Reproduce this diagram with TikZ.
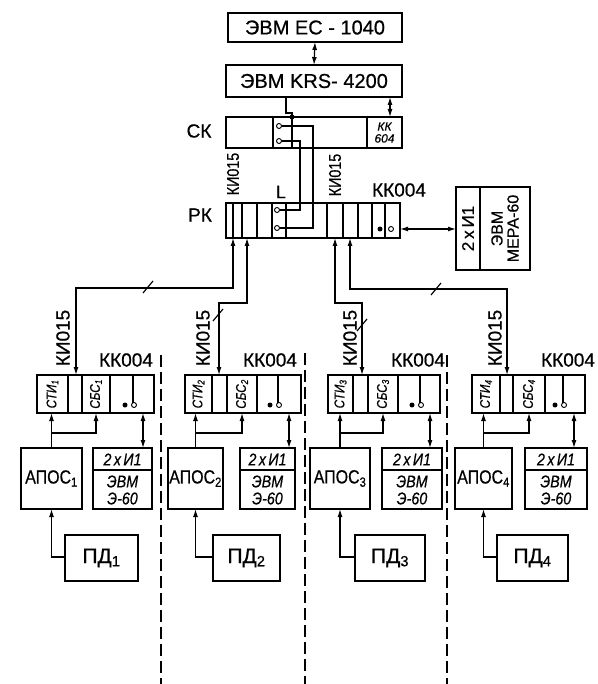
\documentclass[tikz,border=0pt]{standalone}
\usepackage{fontspec}
\setmainfont{Liberation Sans}[FakeBold=0.6]
\usepackage{graphicx}
\usetikzlibrary{arrows.meta,calc}
\newcommand\fs[1]{\fontsize{#1}{#1}\selectfont}
\newcommand\cnd[1]{\scalebox{0.84}[1]{#1}}
\tikzset{
 box/.style={draw, line width=1.8pt, inner sep=0pt, outer sep=0pt, anchor=north west},
 thk/.style={line width=1.6pt},
 ln/.style={line width=1.2pt},
 arr/.style={ln,->},
 dbl/.style={ln,<->},
 ring/.style={circle, draw, line width=0.9pt, inner sep=0pt, minimum size=5pt, fill=white},
 blob/.style={circle, fill, inner sep=0pt, minimum size=5pt},
 txt/.style={inner sep=0pt},
 dline/.style={line width=1.3pt, dash pattern=on 12pt off 5pt},
}
\begin{document}
\begin{tikzpicture}[x=1pt,y=-1pt,>={Latex[length=8pt,width=5pt]}]
\useasboundingbox (0,0) rectangle (597,684);
% top computers
\node[box, minimum width=174, minimum height=29, font=\fs{20}] (ec) at (228,13) {ЭВМ ЕС - 1040};
\node[box, minimum width=176, minimum height=32, font=\fs{20}] (krs) at (226,65) {ЭВМ KRS- 4200};
\draw[dbl] (ec.south) -- (krs.north);
% SK
\node[box, minimum width=176, minimum height=31] (sk) at (226,117) {};
\draw[thk] (273,117) -- (273,148) (367,117) -- (367,148);
\node[txt, font=\itshape\fs{12}, align=center] (kk604) at (384.5,132.5) {КК\\604};
\node[txt, font=\fs{19}] (sklbl) at (199,131) {СК};
\draw[dbl] (krs.south -| 390,0) -- (sk.north -| 390,0);
\node[ring] (sa) at (279,126) {};
\node[ring] (sb) at (279,141) {};
\draw[ln] (krs.south -| 286,0) -- (286,113) -- (292,113) -- (sk.south -| 292,0);
\node[blob] (skd) at (292,117) {};
% RK
\node[box, minimum width=174, minimum height=35] (rk) at (226,203) {};
\foreach \qd in {233,242,257,272,327,343,358,372,385} \draw[thk] (\qd,203) -- (\qd,238);
\node[ring] (ra) at (277,210) {};
\node[ring] (rb) at (277,228) {};
\draw[ln] (286,203) -- (286,238);
\node[blob] (rdot) at (380,229) {};
\node[ring] (rring) at (391,229) {};
\draw[ln] (sb) -- (300,141) -- (300,210) -- (ra);
\draw[ln] (sa) -- (313,126) -- (313,228) -- (rb);
\node[txt, font=\fs{19}] (rklbl) at (200,215) {РК};
\node[txt, rotate=90, font=\fs{17}] (kiu1) at (233,174) {\cnd{КИ015}};
\node[txt, rotate=90, font=\fs{17}] (kiu2) at (335,175) {\cnd{КИ015}};
\node[txt, font=\fs{18}] (llbl) at (281,192) {L};
\node[txt, font=\fs{19}] (kkt) at (399,190) {КК004};
% MERA
\node[box, minimum width=74, minimum height=83] (mera) at (456,187) {};
\draw[thk] (480,187) -- (480,270);
\node[txt, rotate=90, font=\fs{17}] (m1) at (468,228.5) {2\,х\,И1};
\node[txt, rotate=90, font=\fs{16}, align=center] (m2) at (505,228.5) {ЭВМ\\МЕРА-60};
\draw[dbl] (rk.east |- rring) -- (mera.west |- rring);
% groups
\foreach \qi/\ql/\qr/\qa/\qb/\qc/\qp/\qal/\qar/\qel/\qer/\qpl/\qpr/\qsx/\qtx/\qkx/\qcx in {
1/37/154/68/82/110/133/21/82/93/152/65/138/96/143/63/126,
2/185/301/212/227/257/278/168/223/240/295/213/280/242/289/203/270,
3/328/440/353/368/398/420/310/370/382/442/355/425/383/430/350/418,
4/472/585/500/513/545/563/455/512/525/587/497/568/529/574/495/568}{
 \node[box, minimum width={\qr-\ql}, minimum height=38] (k\qi) at (\ql,375) {};
 \draw[thk] (\qa,375) -- (\qa,413) (\qb,375) -- (\qb,413) (\qc,375) -- (\qc,413);
 \draw[ln] (\qp,375) -- (\qp,402.5);
 \node[blob] (kd\qi) at (\qp-8,405) {};
 \node[ring] (kr\qi) at (\qp+1,405) {};
 \node[txt, rotate=90, font=\itshape\fs{14}] (st\qi) at ({(\ql+\qa)/2},394) {\cnd{СТИ\textsubscript{\qi}}};
 \node[txt, rotate=90, font=\itshape\fs{14}] (sbs\qi) at ({(\qb+\qc)/2},394) {\cnd{СБС\textsubscript{\qi}}};
 \node[txt, rotate=90, font=\fs{19}] (ki\qi) at (\qkx,338) {КИ015};
 \node[txt, font=\fs{19}] (kk\qi) at (\qcx,360) {КК004};
 \node[box, minimum width={\qar-\qal}, minimum height=61, font=\fs{19}] (ap\qi) at (\qal,448) {\cnd{АПОС\textsubscript{\qi}}};
 \node[box, minimum width={\qer-\qel}, minimum height=61] (ev\qi) at (\qel,448) {};
 \draw[thk] (\qel,470) -- (\qer,470);
 \node[txt, font=\itshape\fs{17}] (evt\qi) at ({(\qel+\qer)/2},459.5) {\cnd{2\,х\,И1}};
 \node[txt, font=\itshape\fs{17}, align=center] (evb\qi) at ({(\qel+\qer)/2},490) {\cnd{ЭВМ}\\\cnd{Э-60}};
 \node[box, minimum width={\qpr-\qpl}, minimum height=46, font=\fs{21}] (pd\qi) at (\qpl,535) {ПД\textsubscript{\qi}};
 \coordinate (j\qi) at (ap\qi.north |- 0,433);
 \draw[arr] (ap\qi.north) -- (k\qi.south -| ap\qi.north);
 \draw[arr] (j\qi) -- (\qsx,433) -- (k\qi.south -| \qsx,0);
 \draw[dbl] (k\qi.south -| \qtx,0) -- (ev\qi.north -| \qtx,0);
 \draw[arr] (pd\qi.west |- 0,557) -- (ap\qi.south |- 0,557) -- (ap\qi.south);
}
% feeds from RK
\draw[dbl] (rk.south -| 233,0) -- (233,288) -- (76,288) -- (k1.north -| 76,0);
\draw[dbl] (rk.south -| 247,0) -- (247,303) -- (219,303) -- (k2.north -| 219,0);
\draw[dbl] (rk.south -| 335,0) -- (335,303) -- (362,303) -- (k3.north -| 362,0);
\draw[dbl] (rk.south -| 350,0) -- (350,289) -- (507,289) -- (k4.north -| 507,0);
\draw[ln] (143,293) -- (153,281) (213,321) -- (223,309) (357,331) -- (367,319) (431,295) -- (441,283);
% dashed separators
\draw[dline] (161,355) -- (161,684);
\draw[dline] (305,353) -- (305,684);
\draw[dline] (447,355) -- (447,684);
\end{tikzpicture}
\end{document}
